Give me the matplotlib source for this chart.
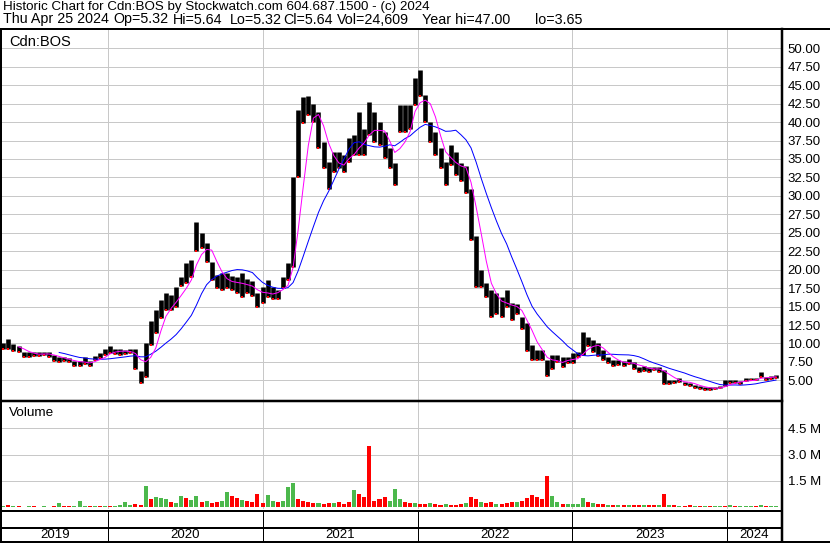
import numpy as np
import pandas as pd
import matplotlib
matplotlib.use("Agg")
import matplotlib.pyplot as plt
import matplotlib.dates as mdates
from matplotlib.lines import Line2D

plt.rcParams['font.family'] = ['Liberation Sans', 'DejaVu Sans']

W, H = 830, 543

# price bars, one bar per 12 calendar days
dates = pd.date_range('2019-04-29', periods=153, freq='12D')

hi = [
    10.0, 10.6, 9.9, 9.6, 8.9, 8.8, 8.8, 8.9, 8.9, 8.8,
    8.4, 8.1, 8.1, 8.0, 7.6, 7.6, 8.1, 7.6, 8.3, 8.7,
    9.2, 9.7, 9.3, 9.2, 9.1, 9.3, 9.3, 6.3, 10.0, 13.0,
    14.5, 15.9, 16.8, 16.6, 17.7, 19.0, 20.9, 21.3, 26.5, 25.0,
    23.6, 21.0, 19.3, 19.6, 19.5, 19.2, 19.0, 19.6, 18.8, 18.4,
    16.8, 17.7, 18.6, 17.7, 17.3, 19.0, 20.9, 32.5, 41.6, 43.4,
    43.5, 42.5, 41.4, 37.3, 34.6, 36.0, 36.0, 35.6, 37.9, 38.2,
    41.4, 39.0, 42.7, 41.4, 40.0, 38.7, 36.5, 34.5, 42.3, 42.3,
    42.3, 46.0, 47.0, 43.7, 40.0, 38.7, 36.5, 34.6, 36.9, 36.0,
    34.5, 34.0, 31.0, 24.5, 20.0, 18.2, 17.3, 16.8, 16.3, 17.3,
    15.5, 15.3, 13.6, 12.8, 9.8, 9.1, 9.1, 7.8, 8.4, 8.5,
    8.2, 8.2, 8.7, 8.8, 11.5, 10.9, 10.5, 10.0, 9.1, 8.2,
    7.8, 7.7, 7.6, 7.9, 7.5, 6.8, 6.9, 6.8, 6.8, 6.8,
    6.4, 5.0, 5.1, 5.3, 4.8, 4.7, 4.4, 4.3, 4.1, 4.1,
    4.1, 4.3, 5.0, 5.1, 5.0, 4.9, 5.3, 5.3, 5.3, 6.1,
    5.5, 5.6, 5.7]

lo = [
    9.2, 9.3, 9.0, 8.8, 8.2, 8.2, 8.3, 8.3, 8.4, 8.2,
    7.6, 7.5, 7.6, 7.5, 7.0, 6.9, 7.2, 6.9, 7.7, 8.0,
    8.4, 8.7, 8.6, 8.5, 8.6, 8.7, 6.5, 4.65, 5.4, 9.8,
    11.4, 13.5, 14.6, 14.6, 15.0, 17.8, 18.2, 19.0, 22.5, 23.0,
    21.0, 18.6, 17.5, 17.3, 17.5, 17.3, 16.8, 16.3, 16.8, 16.5,
    15.0, 15.5, 16.3, 16.0, 16.0, 17.5, 18.6, 20.4, 32.5, 39.9,
    41.0, 40.0, 36.5, 33.8, 31.0, 33.2, 33.8, 33.2, 34.6, 35.5,
    35.5, 35.5, 38.2, 37.3, 36.9, 35.2, 33.8, 31.5, 38.7, 38.7,
    39.0, 42.3, 43.5, 40.0, 37.3, 35.5, 33.8, 31.5, 34.2, 32.8,
    32.0, 30.4, 24.0, 17.7, 17.7, 16.3, 13.6, 14.0, 13.6, 15.0,
    13.2, 14.0, 11.9, 9.0, 7.8, 7.8, 7.8, 5.6, 6.6, 7.5,
    6.8, 7.3, 7.4, 8.1, 8.4, 9.6, 8.9, 8.3, 7.8, 7.4,
    6.9, 7.1, 7.0, 7.2, 6.5, 6.2, 6.3, 6.2, 6.4, 6.2,
    4.5, 4.5, 4.6, 4.8, 4.4, 4.2, 3.9, 3.8, 3.65, 3.7,
    3.8, 3.9, 4.3, 4.7, 4.7, 4.5, 4.9, 5.0, 5.0, 5.4,
    5.1, 5.2, 5.3]

# volume in millions of shares
vol = [
    0.06, 0.12, 0.05, 0.05, 0.04, 0.05, 0.05, 0.04, 0.05, 0.04,
    0.05, 0.25, 0.06, 0.05, 0.06, 0.38, 0.08, 0.06, 0.07, 0.05,
    0.06, 0.06, 0.08, 0.10, 0.29, 0.12, 0.20, 0.10, 1.22, 0.48,
    0.60, 0.53, 0.48, 0.30, 0.25, 0.65, 0.53, 0.40, 0.65, 0.30,
    0.34, 0.25, 0.30, 0.35, 0.88, 0.65, 0.53, 0.40, 0.35, 0.30,
    0.76, 0.25, 0.72, 0.35, 0.30, 0.38, 1.13, 1.39, 0.48, 0.35,
    0.30, 0.25, 0.22, 0.20, 0.25, 0.25, 0.28, 0.20, 0.30, 0.99,
    0.76, 0.60, 3.50, 0.35, 0.48, 0.60, 0.35, 1.05, 0.45, 0.30,
    0.25, 0.25, 0.20, 0.18, 0.23, 0.20, 0.15, 0.20, 0.15, 0.15,
    0.20, 0.25, 0.56, 0.46, 0.30, 0.25, 0.30, 0.20, 0.20, 0.22,
    0.30, 0.30, 0.35, 0.50, 0.69, 0.56, 0.45, 1.80, 0.65, 0.30,
    0.20, 0.20, 0.18, 0.20, 0.50, 0.30, 0.25, 0.20, 0.18, 0.15,
    0.15, 0.12, 0.12, 0.15, 0.12, 0.10, 0.10, 0.12, 0.10, 0.10,
    0.77, 0.12, 0.10, 0.08, 0.08, 0.10, 0.08, 0.08, 0.07, 0.08,
    0.07, 0.08, 0.08, 0.10, 0.08, 0.07, 0.08, 0.08, 0.07, 0.10,
    0.07, 0.06, 0.06]

# g = up session (green volume bar), r = down session (red)
vol_dir = ("grgrrgrrgr" "rgrrgggrgr" "grggggrrgr" "gggrggrggr" "grrggrrgrr"
           "rrggrgggrr" "rrgrrgrrrg" "rrrrrrgggr" "rgrrgrrgrr" "rgrrgrrgrr"
           "rgrrrrrrgg" "rggggrgrrg" "rgrgrrgrrg" "rgrgrrgrgr" "ggrgrgggrg"
           "rgg")

years = [2019, 2020, 2021, 2022, 2023, 2024]
price_ticks = [5.0, 7.5, 10.0, 12.5, 15.0, 17.5, 20.0, 22.5, 25.0, 27.5,
               30.0, 32.5, 35.0, 37.5, 40.0, 42.5, 45.0, 47.5, 50.0]
vol_ticks = [1.5, 3.0, 4.5]

header1 = "Historic Chart for Cdn:BOS by Stockwatch.com 604.687.1500 - (c) 2024"
header2 = ["Thu Apr 25 2024", "Op=5.32", "Hi=5.64", "Lo=5.32", "Cl=5.64",
           "Vol=24,609", "Year hi=47.00", "lo=3.65"]
header2_x = [3, 113, 173, 230, 283, 337, 422, 535]

hi = np.array(hi)
lo = np.array(lo)
vol = np.array(vol)
mid = pd.Series((hi + lo) / 2)
ma_fast = mid.rolling(4).mean()
ma_slow = mid.rolling(12).mean()
vcolors = ['#4cb84c' if c == 'g' else '#ff0000' for c in vol_dir]

x_left = pd.Timestamp('2019-04-26')
x_right = pd.Timestamp('2024-05-10')
PX = 0.72  # one pixel in points


def rect(x0, y0, x1, y1):
    return [x0 / W, 1 - y1 / H, (x1 - x0) / W, (y1 - y0) / H]


def fline(xs, ys, lw):
    fig.add_artist(Line2D([x / W for x in xs], [1 - y / H for y in ys],
                          color='black', lw=lw * PX, transform=fig.transFigure))


fig = plt.figure(figsize=(W / 100, H / 100), dpi=100)
fig.patch.set_facecolor('white')

year_starts = [pd.Timestamp(f'{y}-01-01') for y in years[1:]]

# price panel
ax = fig.add_axes(rect(2, 30, 782, 400))
ax.vlines(dates, lo, hi, color='black', lw=3.3, zorder=3)
ax.scatter(dates, lo, marker='s', s=2.2, color='red', lw=0, zorder=4)
ax.plot(dates, ma_slow, color='#0000ff', lw=1 * PX, zorder=5)
ax.plot(dates, ma_fast, color='#ff00ff', lw=1 * PX, zorder=6)
ax.set_xlim(x_left, x_right)
ax.set_ylim(2.34, 52.48)
ax.set_yticks(price_ticks)
ax.set_yticklabels([f'{v:.2f}' for v in price_ticks])
ax.set_xticks(year_starts)
ax.set_xticklabels([])
ax.text(9, H - 42, 'Cdn:BOS', transform=None, fontsize=10.5, va='center')

# volume panel
axv = fig.add_axes(rect(2, 402, 782, 509))
axv.bar(dates, vol * 1e6, width=9.5, color=vcolors, zorder=3)
axv.set_xlim(x_left, x_right)
axv.set_ylim(-0.1e6, 6.0e6)
axv.set_yticks([v * 1e6 for v in vol_ticks])
axv.set_yticklabels([f'{v:.1f} M' for v in vol_ticks])
axv.set_xticks(year_starts)
axv.set_xticklabels([])

for a in (ax, axv):
    a.set_facecolor('white')
    a.set_axisbelow(True)
    a.grid(True, color='#c8c8c8', lw=1 * PX)
    a.yaxis.tick_right()
    a.tick_params(axis='both', length=0, labelsize=9.5, pad=4, colors='black')
    for s in a.spines.values():
        s.set_visible(False)

# year strip
axy = fig.add_axes(rect(2, 510, 782, 543))
axy.set_xlim(x_left, x_right)
axy.set_ylim(0, 1)
axy.axis('off')
axy.vlines(year_starts, 0, 1, color='black', lw=1 * PX)
bounds = [x_left] + year_starts + [x_right]
for y, a0, a1 in zip(years, bounds[:-1], bounds[1:]):
    c = mdates.num2date((mdates.date2num(a0) + mdates.date2num(a1)) / 2)
    axy.text(c, 0.24, str(y), ha='center', va='center', fontsize=9.5)

# frame lines
fline([0, 830], [29, 29], 2)
fline([0, 782], [401, 401], 2.5)
fline([0, 782], [510.5, 510.5], 2)
fline([0, 782], [528, 528], 2)
fline([0, 830], [542, 542], 2)
fline([1, 1], [29, 543], 2)
fline([782, 782], [29, 543], 2.5)

fig.text(3 / W, 1 - 7 / H, header1, fontsize=9.6, va='center')
for txt, xp in zip(header2, header2_x):
    fig.text(xp / W, 1 - 19.5 / H, txt, fontsize=10.3, va='center')
axv.text(9, H - 413, 'Volume', transform=None, fontsize=9.7, va='center')

fig.savefig('out.png', dpi=100)
